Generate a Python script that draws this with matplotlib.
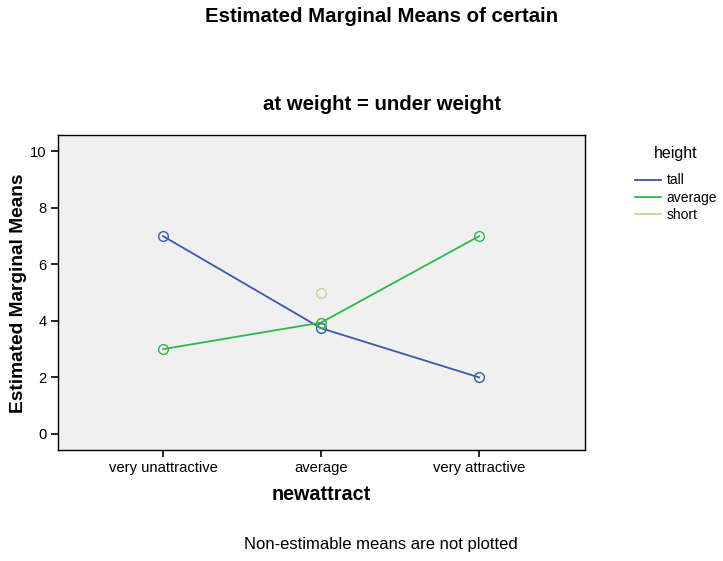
import matplotlib
matplotlib.use("Agg")
import matplotlib.pyplot as plt
import numpy as np

plt.rcParams['font.family'] = ['Liberation Sans', 'DejaVu Sans']

categories = ["very unattractive", "average", "very attractive"]
tall = [7.0, 3.74, 2.0]
average = [3.0, 3.94, 7.0]
short = [np.nan, 5.0, np.nan]
series_names = ["tall", "average", "short"]
colors = ["#3E58AC", "#2EB848", "#D3CE97"]

W, H = 723, 561
fig = plt.figure(figsize=(W/100, H/100), dpi=100)
def fx(x): return x / W
def fy(y): return 1 - y / H

ax = fig.add_axes([fx(58), fy(450), (585-58)/W, (450-135)/H])
ax.set_facecolor("#F0F0F0")
x = np.arange(len(categories))
for vals, c, name in zip([tall, average, short], colors, series_names):
    ax.plot(x, vals, color=c, lw=1.3, marker='o', markersize=7,
            markerfacecolor='none', markeredgecolor=c, markeredgewidth=1.0, label=name)

ax.set_xlim(-0.665, 2.67)
ax.set_ylim(-0.57, 10.58)
ax.set_xticks(x)
ax.set_xticklabels(categories)
ax.set_yticks([0, 2, 4, 6, 8, 10])
ax.tick_params(axis='both', direction='out', length=5, width=1.2, color='black',
               labelsize=10.6, pad=3)
for s in ax.spines.values():
    s.set_linewidth(1.0)
    s.set_color('black')

fig.text(fx(381.5), fy(17), "Estimated Marginal Means of certain", ha='center', va='center',
         fontsize=14.7, fontweight='bold')
fig.text(fx(382), fy(104), "at weight = under weight", ha='center', va='center',
         fontsize=14.7, fontweight='bold')
fig.text(fx(19), fy(293), "Estimated Marginal Means", ha='center', va='center',
         rotation=90, fontsize=13.8, fontweight='bold')
fig.text(fx(321.5), fy(495), "newattract", ha='center', va='center',
         fontsize=14.2, fontweight='bold')
fig.text(fx(380.5), fy(545), "Non-estimable means are not plotted", ha='center', va='center',
         fontsize=12)

leg = fig.legend(loc='upper left', bbox_to_anchor=(fx(635), fy(146)), title="height",
                 frameon=False, fontsize=10, title_fontsize=11.5, handlelength=1.9,
                 handletextpad=0.36, labelspacing=0.22, borderpad=0, borderaxespad=0)
leg._legend_box.sep = 9
for h in leg.legend_handles:
    h.set_marker('')

fig.savefig("out.png", dpi=100)
